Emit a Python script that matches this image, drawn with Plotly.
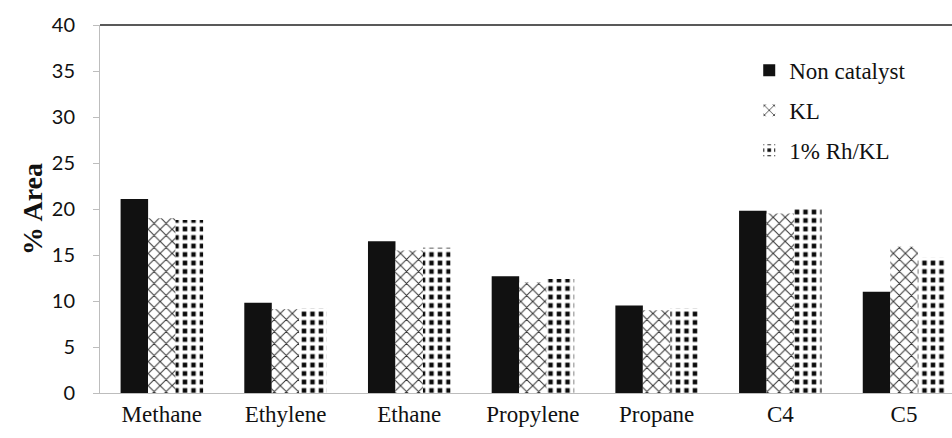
import plotly.graph_objects as go

categories = ["Methane", "Ethylene", "Ethane", "Propylene", "Propane", "C4", "C5"]
non_catalyst = [21.1, 9.8, 16.5, 12.7, 9.5, 19.8, 11.0]
kl = [19.0, 9.1, 15.5, 12.0, 9.0, 19.5, 15.9]
rh_kl = [18.8, 9.2, 15.8, 12.4, 9.2, 20.0, 14.7]
series_names = ["Non catalyst", "KL", "1% Rh/KL"]
y_ticks = [0, 5, 10, 15, 20, 25, 30, 35, 40]

fig = go.Figure()
fig.add_trace(go.Bar(
    x=categories, y=non_catalyst, name=series_names[0], legendgroup="g0",
    marker=dict(color="#111111", line=dict(width=0)),
))
fig.add_trace(go.Bar(
    x=categories, y=kl, name=series_names[1], legendgroup="g1",
    marker=dict(color="white", line=dict(width=0),
                pattern=dict(shape="x", size=8.5, solidity=0.22,
                             fgcolor="#333333", bgcolor="white", fillmode="replace")),
))
fig.add_trace(go.Bar(
    x=categories, y=rh_kl, name=series_names[2], legendgroup="g2",
    marker=dict(color="black", line=dict(width=0),
                pattern=dict(shape="+", size=8.5, solidity=0.72,
                             fgcolor="white", bgcolor="#0a0a0a", fillmode="replace")),
))

fig.update_layout(
    width=952, height=438,
    margin=dict(l=100, r=0, t=25, b=45),
    paper_bgcolor="white", plot_bgcolor="white",
    barmode="group", bargap=0.333, bargroupgap=0,
    showlegend=True,
    legend=dict(
        x=0.762, y=0.935, xanchor="left", yanchor="top",
        bgcolor="rgba(0,0,0,0)",
        font=dict(family="Liberation Serif", size=23, color="#111111"),
        tracegroupgap=7, traceorder="grouped",
        itemwidth=30,
    ),
    xaxis=dict(
        type="category",
        range=[-0.5, 6.388],
        showline=True, linecolor="#bdbdbd", linewidth=1,
        ticks="", showgrid=False, zeroline=False,
        tickfont=dict(family="Liberation Serif", size=23, color="#111111"),
    ),
    yaxis=dict(
        range=[0, 40],
        tickvals=y_ticks,
        showline=True, linecolor="#bdbdbd", linewidth=1,
        ticks="outside", ticklen=6, tickcolor="#bdbdbd", tickwidth=1,
        ticklabelstandoff=14,
        showgrid=False, zeroline=False,
        tickfont=dict(family="Lato", size=20, color="#111111"),
        title=dict(text="<b>% Area</b>", standoff=0,
                   font=dict(family="Liberation Serif", size=28, color="#111111")),
    ),
    shapes=[dict(type="line", xref="x domain", yref="y domain",
                 x0=0, x1=1, y0=1, y1=1,
                 line=dict(color="#222222", width=1.5))],
)

fig.write_html("out.html")
